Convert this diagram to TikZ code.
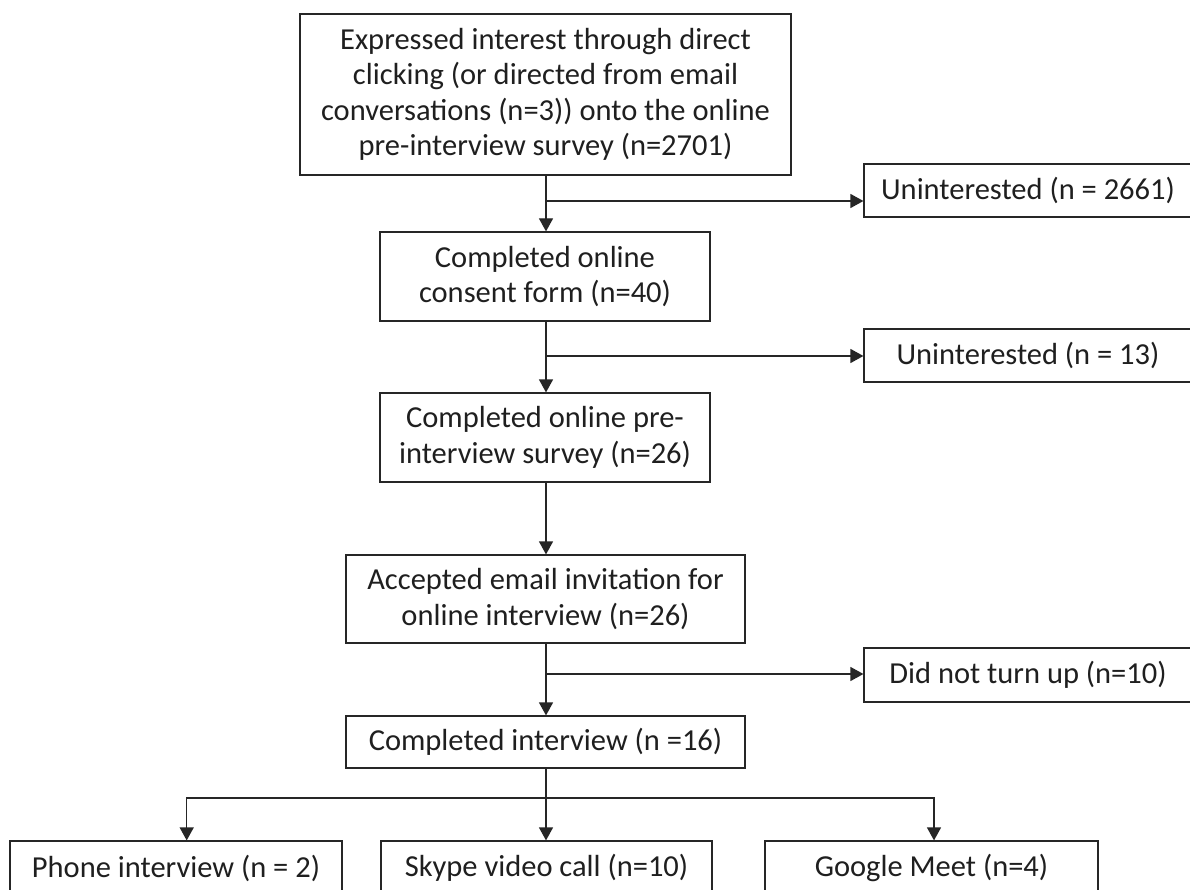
\documentclass[tikz,border=0pt]{standalone}
\usepackage{fontspec}
\setmainfont{Carlito}
\usetikzlibrary{arrows.meta,calc}
\begin{document}
\begin{tikzpicture}[x=1pt,y=-1pt,
  box/.style={draw=black!85,line width=1.2pt,align=center,inner sep=0pt,font=\fontsize{30.5}{35.3}\selectfont,text=black!88},
  arr/.style={line width=1.2pt,draw=black!85,-{Triangle[length=13pt,width=14pt]}},
  ln/.style={line width=1.2pt,draw=black!85}]
\useasboundingbox (0,0) rectangle (1190,890);
\clip (0,0) rectangle (1190,890);
\fill[white] (0,0) rectangle (1190,890);
% main column
\node[box,minimum width=491pt,minimum height=161pt] (b1) at (545.5,94.5) {Expressed interest through direct\\clicking (or directed from email\\conversations (n=3)) onto the online\\pre-interview survey (n=2701)};
\node[box,minimum width=330pt,minimum height=89pt] (b2) at (545,276.5) {Completed online\\consent form (n=40)};
\node[box,minimum width=330pt,minimum height=89pt] (b3) at (545,437.5) {Completed online pre-\\interview survey (n=26)};
\node[box,minimum width=399pt,minimum height=88pt] (b4) at (545.5,599) {Accepted email invitation for\\online interview (n=26)};
\node[box,minimum width=399pt,minimum height=52pt] (b5) at (545.5,742) {Completed interview (n =16)};
% side boxes
\node[box,minimum width=328pt,minimum height=53pt] (sa) at (1028,190.5) {Uninterested (n = 2661)};
\node[box,minimum width=328pt,minimum height=53pt] (sb) at (1028,355.5) {Uninterested (n = 13)};
\node[box,minimum width=328pt,minimum height=54pt] (sc) at (1028,675) {Did not turn up (n=10)};
% bottom boxes
\node[box,minimum width=332pt,minimum height=54pt] (p) at (176,868) {Phone interview (n = 2)};
\node[box,minimum width=331pt,minimum height=54pt] (s) at (546.5,868) {Skype video call (n=10)};
\node[box,minimum width=333pt,minimum height=54pt] (g) at (931.5,868) {Google Meet (n=4)};
% connectors
\coordinate (ja) at (546,201);
\coordinate (jb) at (546,356);
\coordinate (jc) at (546,674);
\coordinate (jd) at (546,798);
\draw[arr] ([xshift=0.5pt]b1.south) -- (ja |- b2.north);
\draw[arr] (ja) -- (ja -| sa.west);
\draw[arr] ([xshift=1pt]b2.south) -- (jb |- b3.north);
\draw[arr] (jb) -- (jb -| sb.west);
\draw[arr] ([xshift=1pt]b3.south) -- (jb |- b4.north);
\draw[arr] ([xshift=0.5pt]b4.south) -- (jc |- b5.north);
\draw[arr] (jc) -- (jc -| sc.west);
\draw[ln] ([xshift=0.5pt]b5.south) -- (jd);
\draw[arr] (jd) -| ([xshift=10.7pt]p.north);
\draw[arr] (jd) -| ([xshift=2.5pt]g.north);
\draw[arr] (jd) -- (jd |- s.north);
\end{tikzpicture}
\end{document}
